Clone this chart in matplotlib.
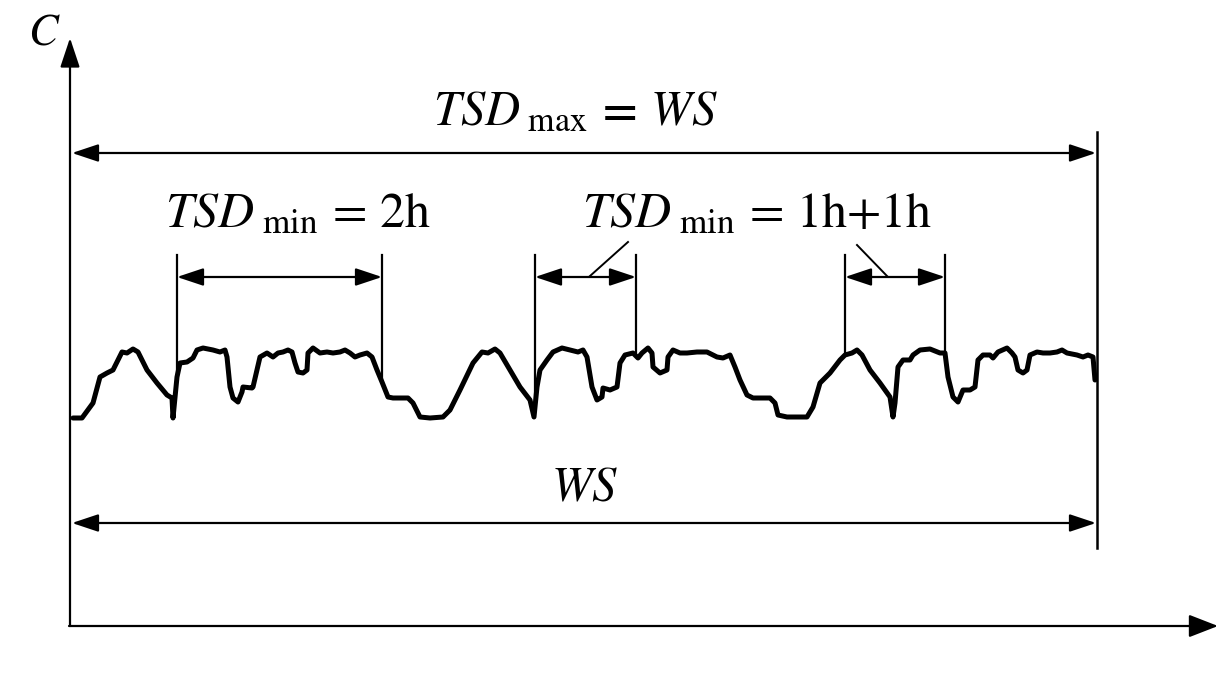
import numpy as np
import matplotlib
matplotlib.use("Agg")
import matplotlib.pyplot as plt

plt.rcParams['mathtext.fontset'] = 'stix'

# ---- data (pixel-like schematic coordinates) ----
curve_x = [73, 82, 93, 100, 107, 113, 118, 122, 127, 133, 138, 147, 157, 167, 172, 173,
           177, 180, 187, 193, 197, 203, 213, 220, 225, 227, 230, 233, 238, 242, 243, 252,
           253, 257, 260, 267, 273, 278, 283, 288, 292, 295, 298, 303, 307, 308, 313, 320,
           327, 333, 340, 345, 350, 355, 360, 367, 372, 377, 382, 388, 393, 408, 413, 420,
           430, 443, 450, 460, 473, 482, 488, 495, 500, 510, 520, 530, 534,
           537, 540, 547, 553, 562, 570, 578, 583, 587, 592, 597, 602, 603, 610, 617, 620,
           625, 633, 638, 642, 648, 652, 653, 660, 667, 668, 673, 680, 687, 697, 707, 717,
           723, 730, 735, 740, 747, 753, 770, 775, 778, 787, 807, 813, 820, 830, 840, 845,
           852, 857, 862, 870, 880, 890, 893, 895, 898, 903, 910, 913, 920, 930, 940, 945,
           948, 953, 958, 963, 970, 975, 978, 983, 990, 993, 998, 1007, 1012, 1015, 1018,
           1023, 1027, 1030, 1037, 1043, 1050, 1057, 1062, 1067, 1077, 1083, 1088, 1093, 1095]
curve_y = [418, 418, 403, 377, 373, 370, 360, 352, 353, 349, 352, 370, 383, 395, 398, 418,
           377, 363, 362, 358, 350, 348, 350, 352, 350, 357, 387, 398, 402, 392, 387, 388,
           387, 370, 357, 353, 357, 353, 352, 350, 352, 363, 372, 373, 370, 353, 348, 353,
           352, 353, 352, 350, 353, 357, 355, 353, 357, 370, 382, 397, 398, 398, 403, 417,
           418, 417, 410, 390, 363, 352, 353, 349, 353, 370, 387, 400, 417,
           387, 370, 360, 352, 348, 350, 352, 350, 357, 387, 400, 397, 388, 390, 387, 363,
           355, 353, 358, 353, 348, 353, 367, 373, 370, 357, 350, 353, 353, 352, 352, 357,
           358, 355, 367, 380, 395, 398, 398, 403, 415, 417, 417, 407, 383, 373, 360, 355,
           353, 350, 355, 370, 383, 397, 417, 403, 367, 360, 360, 355, 350, 349, 353, 353,
           377, 397, 402, 390, 390, 387, 360, 355, 355, 358, 352, 348, 353, 357, 370,
           373, 370, 355, 352, 353, 353, 352, 350, 353, 355, 357, 355, 357, 380]

ws_span = (72, 1097)                     # working shift
tsd_2h = (177, 382)                       # TSD_min = 2h
tsd_1h_a = (535, 636)                     # first 1h
tsd_1h_b = (845, 945)                     # second 1h

# ---- figure ----
W, H = 1218, 691
fig = plt.figure(figsize=(W / 100, H / 100), dpi=100)
ax = fig.add_axes([0, 0, 1, 1])
ax.set_xlim(0, W)
ax.set_ylim(H, 0)
ax.axis('off')

k = 'black'
# axes with arrows
ax.annotate('', xy=(70, 38), xytext=(70, 626),
            arrowprops=dict(arrowstyle='-|>,head_length=0.9,head_width=0.3', lw=1.6, color=k,
                            shrinkA=0, shrinkB=0, mutation_scale=20))
ax.annotate('', xy=(1218, 626), xytext=(69, 626),
            arrowprops=dict(arrowstyle='-|>,head_length=0.9,head_width=0.35', lw=1.6, color=k,
                            shrinkA=0, shrinkB=0, mutation_scale=20))
ax.text(44, 32, r'$\mathbf{\mathit{C}}$', fontsize=32, ha='center', va='center')

# curve
ax.plot(curve_x, curve_y, color=k, lw=3.6, solid_joinstyle='round', solid_capstyle='round')

def dbl(x0, x1, y):
    ax.annotate('', xy=(x1, y), xytext=(x0, y),
                arrowprops=dict(arrowstyle='<|-|>,head_length=0.9,head_width=0.3', lw=1.6,
                                color=k, shrinkA=0, shrinkB=0, mutation_scale=18))

# right boundary line
ax.plot([ws_span[1], ws_span[1]], [132, 548], color=k, lw=1.8)

# TSD max
dbl(ws_span[0], ws_span[1] - 1, 153)
ax.text(575, 110, r'$\mathit{TSD}_{\,\,\mathrm{max}}\,\mathbf{=}\,\mathit{WS}$', fontsize=35,
        ha='center', va='center')

# WS
dbl(ws_span[0], ws_span[1] - 1, 523)
ax.text(585, 487, r'$\mathit{WS}$', fontsize=35, ha='center', va='center')

# TSD min intervals
for (a, b) in (tsd_2h, tsd_1h_a, tsd_1h_b):
    for xv in (a, b):
        yb = np.interp(xv, curve_x, curve_y)
        ax.plot([xv, xv], [255, yb], color=k, lw=1.6)
    dbl(a, b, 277)

ax.text(298, 213, r'$\mathit{TSD}_{\,\,\mathrm{min}}\,=\,\mathrm{2h}$', fontsize=36,
        ha='center', va='center')
ax.text(757, 213, r'$\mathit{TSD}_{\,\,\mathrm{min}}\,=\,\mathrm{1h{+}1h}$', fontsize=36,
        ha='center', va='center')

# leader lines
ax.plot([628, 590], [242, 276], color=k, lw=1.4)
ax.plot([857, 887], [245, 276], color=k, lw=1.4)

fig.savefig('out.png', dpi=100)
